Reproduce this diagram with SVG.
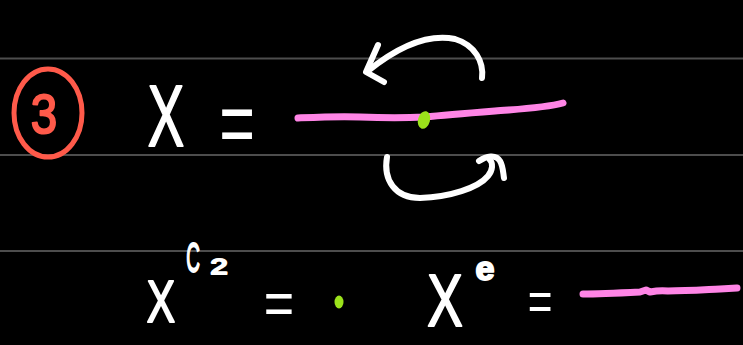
<svg xmlns="http://www.w3.org/2000/svg" width="743" height="345" viewBox="0 0 743 345">
<style>
.rule{stroke:#4d4d4d;stroke-width:2;fill:none}
.ink{fill:#ffffff;stroke:#ffffff;stroke-width:2;stroke-linejoin:round;font-family:"Liberation Sans",Arial,sans-serif;text-anchor:middle}
.stroke{fill:none;stroke:#ffffff;stroke-width:6;stroke-linecap:round;stroke-linejoin:round}
.pink{fill:none;stroke:#ff85e6;stroke-width:7;stroke-linecap:round;stroke-linejoin:round}
.dot{fill:#9be21b}
</style>
<rect width="743" height="345" fill="#000000"/>
<g id="rules">
<line class="rule" x1="0" y1="58.5" x2="743" y2="58.5"/>
<line class="rule" x1="0" y1="155" x2="743" y2="155"/>
<line class="rule" x1="0" y1="251" x2="743" y2="251"/>
</g>
<g id="number">
<ellipse cx="48" cy="113" rx="34" ry="44" fill="none" stroke="#ff5a4a" stroke-width="5"/>
<text transform="translate(44,133) scale(0.85,1)" style="fill:#ff5a4a;stroke:#ff5a4a;stroke-width:2;stroke-linejoin:round;font-family:'Liberation Sans',Arial,sans-serif;font-size:56px;text-anchor:middle">3</text>
</g>
<g id="row1">
<text class="ink" transform="translate(166,146) scale(0.62,1)" font-size="88">X</text>
<text class="ink" transform="translate(237,154) scale(0.68,1)" font-size="90" style="stroke-width:0">=</text>
</g>
<g id="line-X">
<path class="pink" d="M298,118 C320,117 340,116 360,117 C385,118 405,118 425,117 C445,115 470,113 495,111 C520,109 545,108 563,103"/>
<ellipse class="dot" cx="424" cy="120" rx="6" ry="9" transform="rotate(15 424 120)"/>
</g>
<g id="connectors">
<path class="stroke" d="M482,78 C484,62 475,45 455,39 C430,34 400,45 368,71"/>
<path class="stroke" d="M378,45 L366,72 L384,82"/>
<path class="stroke" d="M387,157 C383,180 395,198 420,198 C450,197 478,188 488,176 C493,170 493,163 490,160"/>
<path class="stroke" d="M479,161 C486,156 496,154 500,161 C503,166 503,172 504,178"/>
</g>
<g id="row2-fixed">
<text class="ink" transform="translate(161,322) scale(0.72,1)" font-size="59">X</text>
<text class="ink" transform="translate(193,272) scale(0.45,1)" font-size="42">C</text>
<text class="ink" transform="translate(219,274) scale(1.4,1)" font-size="22">2</text>
<text class="ink" transform="translate(279,324) scale(0.84,1)" font-size="62" style="stroke-width:0">=</text>
<ellipse class="dot" cx="339" cy="302" rx="4.5" ry="6.5"/>
</g>
<g id="row2-e">
<text class="ink" transform="translate(445,326) scale(0.72,1)" font-size="74">X</text>
<text class="ink" x="485" y="280" font-size="34" font-weight="bold">e</text>
<text class="ink" transform="translate(540,320) scale(0.77,1)" font-size="55" style="stroke-width:0">=</text>
<path class="pink" d="M583,294 C600,294 620,293 640,292 L646,290 L650,292 C655,291 660,290 668,291 C685,291 700,290 720,289 L737,288"/>
</g>
</svg>
